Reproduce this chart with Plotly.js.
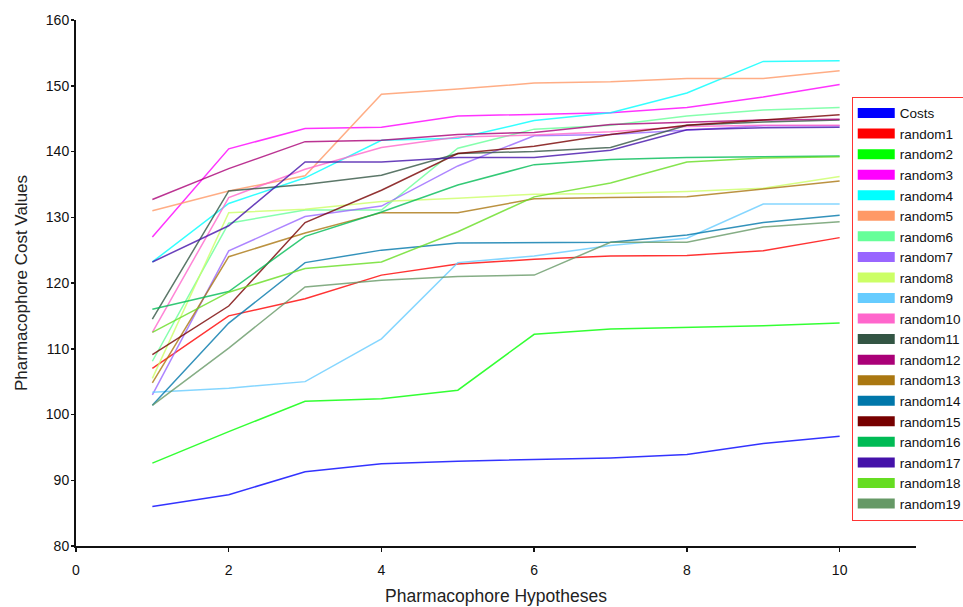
<!DOCTYPE html>
<html>
<head>
<meta charset="utf-8">
<script src="https://cdn.plot.ly/plotly-3.0.1.min.js"></script>
<style>html,body{margin:0;padding:0;background:#fff;}#chart{width:963px;height:607px;}</style>
</head>
<body>
<div id="chart"></div>
<script>
const hypotheses = [1, 2, 3, 4, 5, 6, 7, 8, 9, 10];
const seriesNames = ["Costs", "random1", "random2", "random3", "random4", "random5", "random6", "random7", "random8", "random9",
  "random10", "random11", "random12", "random13", "random14", "random15", "random16", "random17", "random18", "random19"];
const seriesColors = ["#0000ff", "#ff0000", "#00ff00", "#ff00ff", "#00ffff", "#ff9966", "#66ff99", "#9966ff", "#ccff66", "#66ccff",
  "#ff66cc", "#335544", "#aa0077", "#aa7711", "#0077aa", "#770000", "#00bb55", "#4411aa", "#66dd22", "#669966"];

const costs    = [86.0, 87.8, 91.3, 92.5, 92.9, 93.1, 93.4, 93.9, 95.6, 96.7];
const random1  = [107.0, 115.0, 117.6, 121.2, 122.9, 123.6, 124.1, 124.2, 124.9, 126.9];
const random2  = [92.6, 97.4, 102.0, 102.4, 103.7, 112.2, 113.0, 113.2, 113.5, 113.9];
const random3  = [127.0, 140.4, 143.5, 143.7, 145.4, 145.7, 145.9, 146.7, 148.3, 150.2];
const random4  = [123.2, 132.1, 136.0, 141.7, 142.0, 144.7, 145.9, 148.9, 153.7, 153.8];
const random5  = [131.0, 134.0, 136.3, 148.7, 149.5, 150.4, 150.6, 151.1, 151.1, 152.3];
const random6  = [108.1, 129.1, 131.1, 131.1, 140.5, 143.4, 144.0, 145.4, 146.3, 146.7];
const random7  = [103.0, 124.9, 130.1, 131.7, 137.8, 142.4, 142.6, 143.3, 143.9, 143.9];
const random8  = [105.5, 130.7, 131.2, 132.4, 132.9, 133.5, 133.6, 133.9, 134.4, 136.2];
const random9  = [103.4, 104.0, 105.0, 111.5, 123.1, 124.1, 125.7, 126.8, 132.0, 132.0];
const random10 = [112.5, 133.0, 137.3, 140.6, 142.2, 142.5, 143.0, 143.8, 144.0, 144.0];
const random11 = [114.5, 134.0, 135.0, 136.4, 139.7, 140.0, 140.6, 144.0, 144.5, 144.8];
const random12 = [132.7, 137.4, 141.5, 141.7, 142.6, 142.9, 144.1, 144.5, 144.8, 144.9];
const random13 = [104.8, 124.0, 127.6, 130.7, 130.7, 132.8, 133.0, 133.1, 134.3, 135.5];
const random14 = [101.4, 113.9, 123.1, 125.0, 126.1, 126.1, 126.2, 127.3, 129.2, 130.3];
const random15 = [109.1, 116.5, 129.2, 134.1, 139.7, 140.8, 142.6, 144.0, 144.8, 145.6];
const random16 = [116.0, 118.7, 127.1, 130.8, 134.9, 138.0, 138.8, 139.1, 139.2, 139.3];
const random17 = [123.2, 128.7, 138.4, 138.4, 139.1, 139.1, 140.2, 143.3, 143.6, 143.7];
const random18 = [112.5, 118.6, 122.2, 123.2, 127.8, 133.1, 135.2, 138.4, 139.0, 139.2];
const random19 = [101.4, 110.1, 119.4, 120.4, 121.0, 121.2, 126.2, 126.2, 128.5, 129.3];

const xTickVals = [0, 2, 4, 6, 8, 10];
const yTickVals = [80, 90, 100, 110, 120, 130, 140, 150, 160];

const allSeries = [costs, random1, random2, random3, random4, random5, random6, random7, random8, random9,
  random10, random11, random12, random13, random14, random15, random16, random17, random18, random19];

const traces = [];
allSeries.forEach((vals, i) => {
  traces.push({
    type: 'scatter', mode: 'lines', x: hypotheses, y: vals, name: seriesNames[i],
    line: {color: seriesColors[i], width: 1.5}, opacity: 0.8, showlegend: false, hoverinfo: 'x+y+name'
  });
});
// legend entries (swatches)
allSeries.forEach((vals, i) => {
  traces.push({
    type: 'scatter', mode: 'lines', x: [null], y: [null], name: seriesNames[i],
    line: {color: seriesColors[i], width: 16}, showlegend: true, hoverinfo: 'skip'
  });
});

const font = 'Liberation Sans, Arial, sans-serif';
const layout = {
  width: 963, height: 607,
  margin: {l: 76, r: 47, t: 20, b: 61, autoexpand: false},
  paper_bgcolor: '#ffffff', plot_bgcolor: '#ffffff',
  font: {family: font, color: '#111111', size: 14},
  showlegend: true,
  legend: {
    x: 0.9235, xanchor: 'left', y: 0.854, yanchor: 'top',
    bordercolor: '#ff3333', borderwidth: 1, bgcolor: '#ffffff',
    font: {family: font, size: 13.5, color: '#111111'},
    itemwidth: 37, tracegroupgap: 0
  },
  xaxis: {
    range: [0, 11], tickvals: xTickVals, ticktext: xTickVals.map(String),
    showgrid: false, zeroline: false, showline: true, linecolor: '#111111', linewidth: 2,
    ticks: 'outside', ticklen: 4, tickwidth: 1.5, tickcolor: '#111111',
    ticklabelstandoff: 6,
    tickfont: {family: font, size: 14, color: '#111111'},
    title: {text: 'Pharmacophore Hypotheses', font: {family: font, size: 17.5, color: '#222222'}, standoff: 13}
  },
  yaxis: {
    range: [80, 160], tickvals: yTickVals, ticktext: yTickVals.map(String),
    showgrid: false, zeroline: false, showline: true, linecolor: '#111111', linewidth: 2,
    ticks: 'outside', ticklen: 3, tickwidth: 1.5, tickcolor: '#111111',
    ticklabelstandoff: -1,
    tickfont: {family: font, size: 14, color: '#111111'},
    title: {text: 'Pharmacophore Cost Values', font: {family: font, size: 17, color: '#222222'}, standoff: 14}
  }
};

Plotly.newPlot('chart', traces, layout, {displayModeBar: false, staticPlot: true});
</script>
</body>
</html>
